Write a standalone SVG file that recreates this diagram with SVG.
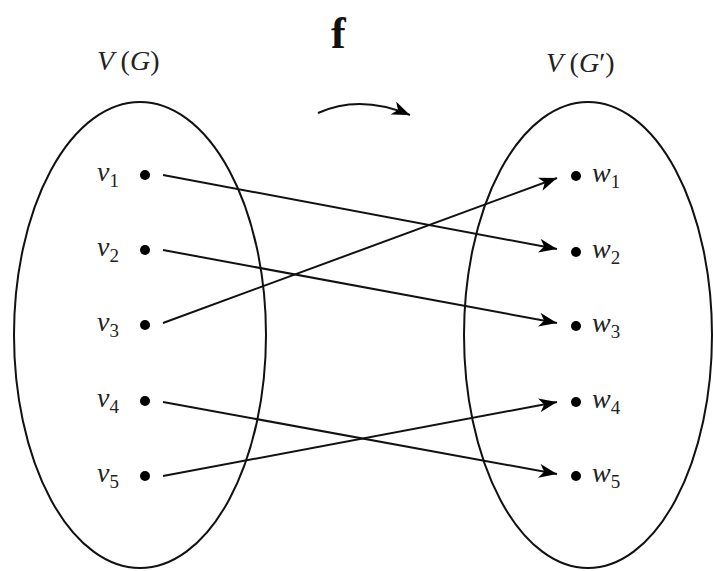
<svg xmlns="http://www.w3.org/2000/svg" width="713" height="571" viewBox="0 0 713 571">
<defs>
<marker id="ah" markerWidth="20" markerHeight="14" refX="18" refY="7" orient="auto" markerUnits="userSpaceOnUse">
<path d="M0,0 L18,7 L0,14 L5,7 Z" fill="#000"/>
</marker>
<style>
.set{fill:none;stroke:#111;stroke-width:2}
.edge{fill:none;stroke:#111;stroke-width:2;marker-end:url(#ah)}
.dot{fill:#000}
.lbl{font-family:"Liberation Serif",serif;font-style:italic;font-size:28px;fill:#222}
.sub{font-family:"Liberation Serif",serif;font-size:19px;font-style:normal;fill:#222}
.up{font-style:normal}
</style>
</defs>
<rect width="713" height="571" fill="#fff"/>
<g id="setG">
<ellipse class="set" cx="140" cy="335" rx="126" ry="233"/>
<text class="lbl" x="97" y="70">V <tspan class="up">(</tspan>G<tspan class="up">)</tspan></text>
</g>
<g id="setGp">
<ellipse class="set" cx="588" cy="335" rx="124" ry="233"/>
<text class="lbl" x="546" y="72">V <tspan class="up">(</tspan>G<tspan class="up">′)</tspan></text>
</g>
<g id="map">
<text x="331" y="48" font-family="Liberation Serif,serif" font-weight="bold" font-size="44" fill="#111">f</text>
<path class="edge" d="M318,113 Q360,94 410,115"/>
</g>
<g id="v1"><circle class="dot" cx="145" cy="175" r="5"/><text class="lbl" x="97" y="181">v<tspan class="sub" dy="6">1</tspan></text></g>
<g id="v2"><circle class="dot" cx="145" cy="250" r="5"/><text class="lbl" x="97" y="256">v<tspan class="sub" dy="6">2</tspan></text></g>
<g id="v3"><circle class="dot" cx="145" cy="325" r="5"/><text class="lbl" x="97" y="331">v<tspan class="sub" dy="6">3</tspan></text></g>
<g id="v4"><circle class="dot" cx="145" cy="401" r="5"/><text class="lbl" x="97" y="407">v<tspan class="sub" dy="6">4</tspan></text></g>
<g id="v5"><circle class="dot" cx="145" cy="476" r="5"/><text class="lbl" x="97" y="482">v<tspan class="sub" dy="6">5</tspan></text></g>
<g id="w1"><circle class="dot" cx="576" cy="176" r="5"/><text class="lbl" x="592" y="182">w<tspan class="sub" dy="6">1</tspan></text></g>
<g id="w2"><circle class="dot" cx="576" cy="252" r="5"/><text class="lbl" x="592" y="258">w<tspan class="sub" dy="6">2</tspan></text></g>
<g id="w3"><circle class="dot" cx="576" cy="326" r="5"/><text class="lbl" x="592" y="332">w<tspan class="sub" dy="6">3</tspan></text></g>
<g id="w4"><circle class="dot" cx="576" cy="402" r="5"/><text class="lbl" x="592" y="408">w<tspan class="sub" dy="6">4</tspan></text></g>
<g id="w5"><circle class="dot" cx="576" cy="476" r="5"/><text class="lbl" x="592" y="482">w<tspan class="sub" dy="6">5</tspan></text></g>
<g id="connectors">
<line class="edge" x1="163" y1="175" x2="557" y2="249"/>
<line class="edge" x1="163" y1="250" x2="557" y2="323"/>
<line class="edge" x1="163" y1="323" x2="557" y2="178"/>
<line class="edge" x1="163" y1="402" x2="557" y2="474"/>
<line class="edge" x1="163" y1="476" x2="557" y2="402"/>
</g>
</svg>
